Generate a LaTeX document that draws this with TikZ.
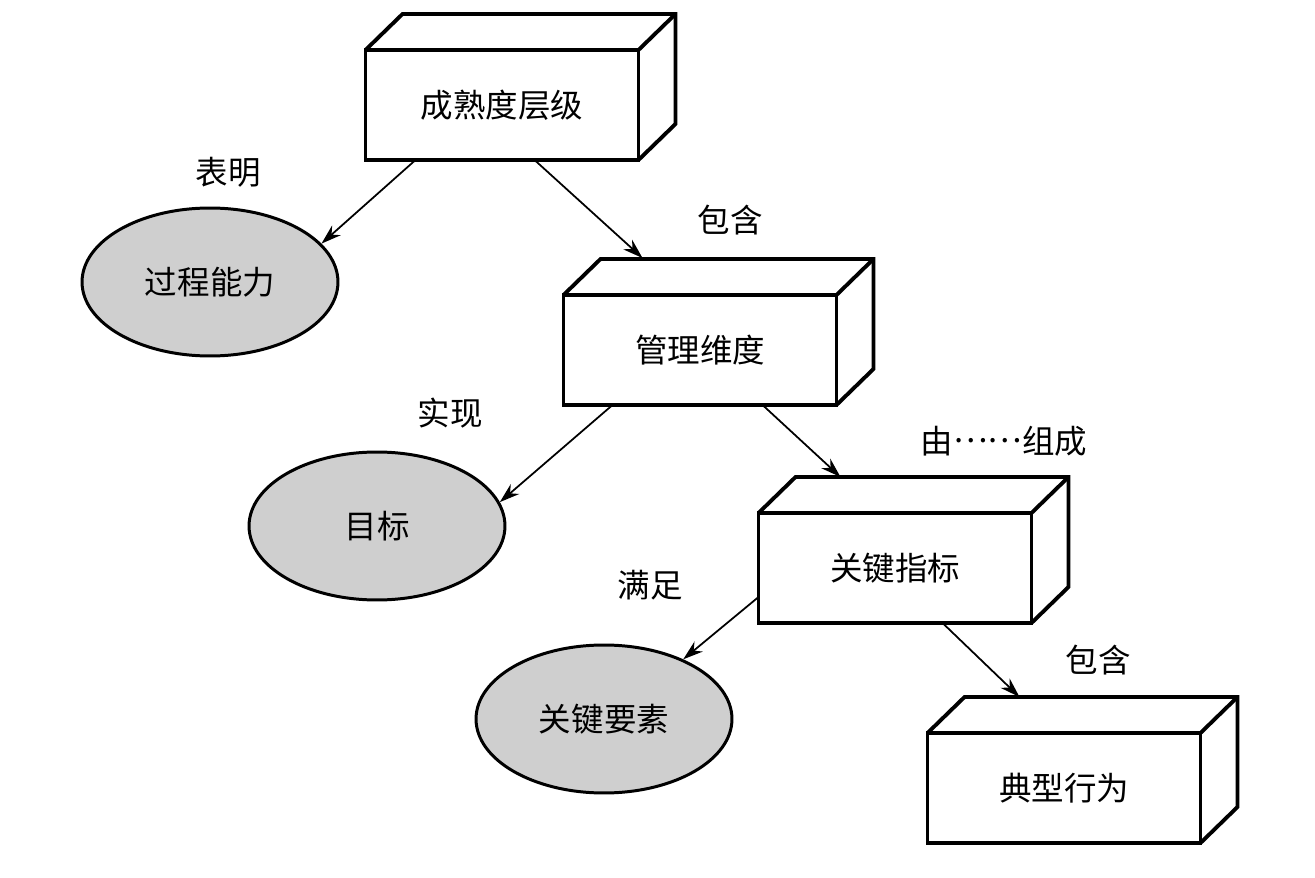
\documentclass[tikz,border=0pt]{standalone}
\usepackage{fontspec}
\setmainfont{Noto Sans CJK SC}
\usepackage{tikz}
\usetikzlibrary{shapes, arrows.meta, positioning, calc}

\begin{document}
\begin{tikzpicture}[
  x=0.02cm, y=-0.02cm,
  cube/.style={rectangle, draw, line width=2.2pt, fill=white, outer sep=0pt,
               minimum width=5.46cm, minimum height=2.2cm,
               font=\fontsize{18.5}{22}\selectfont},
  face/.style={line width=2.2pt},
  oval/.style={ellipse, draw, line width=1.7pt, fill=gray!38, inner sep=0pt,
               minimum width=5.12cm, minimum height=2.96cm,
               font=\fontsize{18.5}{22}\selectfont},
  lbl/.style={font=\fontsize{18.5}{22}\selectfont},
  arrow/.style={-{Stealth[length=4mm,width=2.6mm]}, line width=1pt}
]
\useasboundingbox (0,0) rectangle (1315,878);

% front faces of the boxes
\node[cube] (level) at (502,105) {成熟度层级};
\node[cube] (dim) at (700,350) {管理维度};
\node[cube] (kpi) at (895,568) {关键指标};
\node[cube] (behav) at (1064,788) {典型行为};

% top and side faces
\foreach \n in {level,dim,kpi,behav}{
  \draw[face] (\n.north west) -- ++(37,-36) -- ($(\n.north east)+(37,-36)$)
    -- ($(\n.south east)+(37,-36)$) -- (\n.south east);
  \draw[face] (\n.north east) -- ++(37,-36);
}

\node[oval] (ability) at (210,282) {过程能力};
\node[oval] (goal) at (377,526) {目标};
\node[oval] (element) at (604,719) {关键要素};

\node[lbl] (l1) at (228,172) {表明};
\node[lbl] (l2) at (730,220) {包含};
\node[lbl] (l3) at (450,413) {实现};
\node[lbl] (l4) at (1004,441) {由\raisebox{0.32em}{……}组成};
\node[lbl] (l5) at (650,585) {满足};
\node[lbl] (l6) at (1098,660) {包含};

\draw[arrow] ($(level.south west)+(50,0)$) -- (ability.19);
\draw[arrow] ($(level.south west)+(169,0)$) -- ($(dim.north west)+(79,-37)$);
\draw[arrow] ($(dim.south west)+(49,0)$) -- (goal.11);
\draw[arrow] ($(dim.south west)+(199,0)$) -- ($(kpi.north west)+(82,-36)$);
\draw[arrow] ($(kpi.south west)+(0,-26)$) -- (element.37);
\draw[arrow] ($(kpi.south west)+(184,0)$) -- ($(behav.north west)+(92,-36)$);
\end{tikzpicture}
\end{document}
